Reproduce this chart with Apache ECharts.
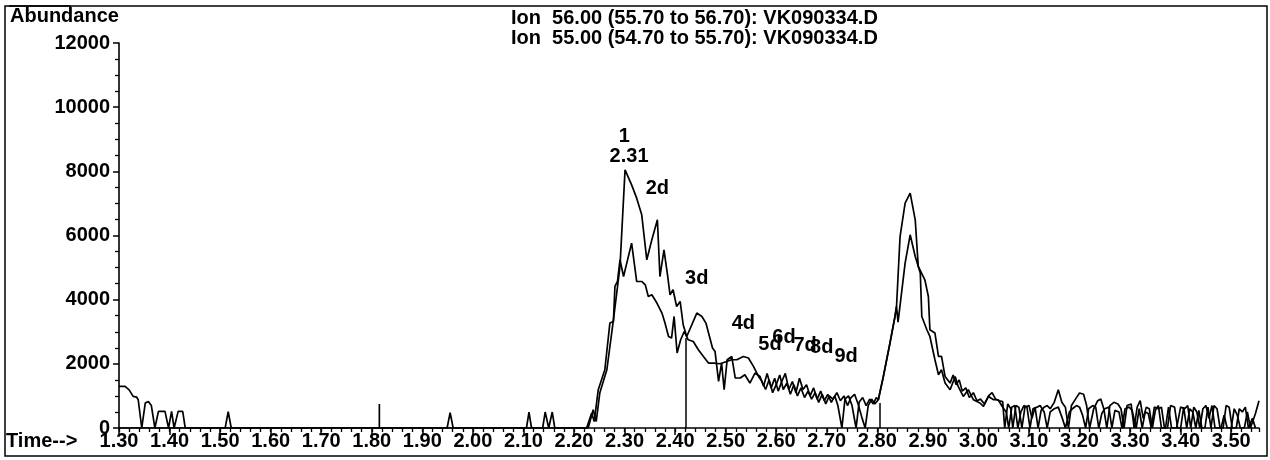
<!DOCTYPE html>
<html>
<head>
<meta charset="utf-8">
<script src="https://cdn.jsdelivr.net/npm/echarts@6/dist/echarts.min.js"></script>
<style>
html,body{margin:0;padding:0;background:#fff;}
#chart{width:1270px;height:460px;}
</style>
</head>
<body>
<div id="chart"></div>
<script>
// ---- data ----
const titleLines = [
  'Ion  56.00 (55.70 to 56.70): VK090334.D',
  'Ion  55.00 (54.70 to 55.70): VK090334.D'
];
const yTicks = [0, 2000, 4000, 6000, 8000, 10000, 12000];
const xTicks = [1.30,1.40,1.50,1.60,1.70,1.80,1.90,2.00,2.10,2.20,2.30,2.40,2.50,2.60,2.70,2.80,2.90,3.00,3.10,3.20,3.30,3.40,3.50];

// Ion 56 trace [time, abundance]
const ion56 = [
  [1.300,1296],[1.312,1296],[1.320,1190],[1.328,984],[1.335,960],[1.338,881],[1.345,0],[1.352,780],[1.358,829],[1.364,700],[1.371,0],
  [1.378,517],[1.391,517],[1.398,0],[1.404,517],[1.409,0],[1.417,517],[1.426,517],[1.431,0],
  [1.510,0],[1.516,510],[1.522,0],
  [1.815,0],[1.815,750],[1.815,0],
  [1.949,0],[1.955,480],[1.961,0],
  [2.106,0],[2.111,498],[2.116,0],[2.138,0],[2.143,498],[2.150,0],[2.157,498],[2.162,0],
  [2.228,0],[2.238,570],[2.244,205],[2.251,1090],[2.265,1816],[2.278,3373],[2.291,5034],[2.301,8046],[2.314,7579],[2.324,7164],
  [2.334,6644],[2.344,5243],[2.354,5866],[2.365,6489],[2.370,4722],[2.378,5554],[2.385,4775],[2.390,4152],[2.396,4308],[2.403,3788],
  [2.410,3944],[2.416,3218],[2.423,2853],[2.443,3582],[2.453,3477],[2.461,3270],[2.468,2853],[2.474,2492],[2.479,2386],[2.486,1452],
  [2.492,2025],[2.497,1193],[2.503,2128],[2.512,2230],[2.519,1558],[2.529,1558],[2.538,1660],[2.548,1402],[2.558,1713],[2.568,1607],
  [2.575,1300],[2.582,1700],[2.590,1250],[2.597,1550],[2.604,1150],[2.611,1450],[2.618,1700],[2.625,1200],[2.632,1450],[2.639,1100],
  [2.646,1550],[2.653,1200],[2.660,1350],[2.667,1000],[2.674,1250],[2.681,900],[2.688,1150],[2.695,850],[2.702,1050],[2.709,800],
  [2.716,1000],[2.722,700],[2.730,0],[2.736,900],[2.743,1000],[2.750,700],[2.758,0],[2.764,800],[2.771,950],[2.778,700],[2.785,900],
  [2.792,750],[2.798,950],[2.802,880],[2.812,1607],[2.825,2648],[2.835,3477],[2.838,3788],[2.845,5968],[2.855,7009],[2.865,7320],
  [2.875,6489],[2.881,5034],[2.894,4620],[2.901,4100],[2.904,3062],[2.914,2959],[2.921,2230],[2.927,2230],
  [2.934,1607],[2.944,1400],[2.950,1650],[2.956,1350],[2.962,1500],[2.968,1150],[2.975,1250],[2.982,950],[2.990,1100],[2.997,850],
  [3.004,900],[3.012,750],[3.020,1000],[3.027,1100],[3.034,900],[3.041,850],[3.048,820],[3.052,0],[3.058,750],[3.064,600],[3.068,0],
  [3.074,700],[3.080,650],[3.086,0],[3.092,650],[3.100,700],[3.106,300],[3.112,650],[3.118,0],[3.124,550],[3.130,650],[3.136,700],
  [3.142,600],[3.150,800],[3.158,1190],[3.165,800],[3.172,650],[3.178,0],[3.184,700],[3.192,900],[3.200,1090],[3.208,1050],[3.214,700],
  [3.220,0],[3.228,600],[3.236,850],[3.242,900],[3.248,600],[3.254,0],[3.260,700],[3.268,800],[3.276,750],[3.282,600],[3.288,0],
  [3.294,700],[3.302,750],[3.308,0],[3.314,650],[3.320,850],[3.326,300],[3.332,650],[3.338,600],[3.344,0],[3.350,550],[3.356,700],
  [3.362,0],[3.370,0],[3.376,650],[3.382,0],[3.392,0],[3.400,650],[3.408,600],[3.414,700],[3.420,0],[3.426,650],[3.432,500],[3.438,0],
  [3.444,600],[3.450,700],[3.456,300],[3.462,700],[3.468,0],[3.480,0],[3.486,400],[3.492,0],[3.500,0],[3.506,600],[3.512,400],[3.518,0],
  [3.526,0],[3.532,500],[3.538,0],[3.548,450],[3.555,850]
];

// Ion 55 trace [time, abundance]
const ion55 = [
  [1.300,0],[2.225,0],[2.235,467],[2.240,200],[2.248,1193],[2.261,1816],[2.271,3270],[2.278,3320],[2.281,4411],[2.286,4567],[2.291,5243],
  [2.298,4722],[2.314,5763],[2.324,4567],[2.334,4567],[2.341,4464],[2.347,4100],[2.354,4152],[2.364,3894],[2.374,3582],[2.380,3270],
  [2.387,2853],[2.393,2803],[2.398,3477],[2.404,2336],[2.411,2750],[2.418,3009],[2.426,2750],[2.436,2698],[2.446,2439],[2.456,2230],
  [2.466,2025],[2.476,2025],[2.489,2003],[2.502,2075],[2.512,2128],[2.522,2128],[2.535,2230],[2.545,2181],[2.555,1919],[2.565,1607],
  [2.572,1450],[2.579,1200],[2.586,1500],[2.593,1100],[2.600,1350],[2.607,1650],[2.614,1200],[2.621,1400],[2.628,1050],[2.635,1350],
  [2.642,1000],[2.649,1250],[2.656,950],[2.663,1150],[2.670,900],[2.677,1100],[2.684,800],[2.691,1050],[2.698,750],[2.705,1000],
  [2.712,900],[2.720,1100],[2.727,850],[2.734,1000],[2.741,700],[2.748,950],[2.755,1050],[2.762,750],[2.770,300],[2.776,0],[2.782,700],
  [2.789,900],[2.795,750],[2.802,880],[2.812,1607],[2.825,2648],[2.835,3477],[2.838,3788],[2.841,3300],[2.855,5140],[2.865,6022],
  [2.875,5346],[2.885,4828],[2.888,3477],[2.898,3062],[2.904,2853],[2.914,2128],[2.921,1660],[2.927,1816],
  [2.934,1402],[2.944,1193],[2.954,1607],[2.960,1296],[2.970,984],[2.980,1193],[2.990,881],[3.003,779],[3.010,673],[3.020,984],
  [3.030,881],[3.039,881],[3.049,623],[3.055,500],[3.060,0],[3.066,650],[3.072,700],[3.078,0],[3.084,500],[3.090,700],[3.096,650],
  [3.102,0],[3.108,600],[3.116,650],[3.122,700],[3.130,500],[3.136,0],[3.142,500],[3.150,600],[3.158,650],[3.166,300],[3.172,0],
  [3.180,500],[3.186,600],[3.194,700],[3.200,650],[3.206,400],[3.212,0],[3.218,600],[3.226,700],[3.232,650],[3.238,0],[3.244,450],
  [3.250,600],[3.258,650],[3.264,0],[3.270,550],[3.278,500],[3.284,0],[3.290,600],[3.298,650],[3.304,550],[3.312,0],[3.318,600],
  [3.324,0],[3.330,500],[3.336,450],[3.342,0],[3.348,650],[3.356,600],[3.362,650],[3.368,0],[3.374,0],[3.380,700],[3.388,650],
  [3.394,0],[3.400,0],[3.406,650],[3.412,0],[3.418,600],[3.424,500],[3.430,0],[3.436,550],[3.442,0],[3.448,0],[3.454,650],[3.460,0],
  [3.466,700],[3.472,600],[3.478,0],[3.484,0],[3.490,700],[3.496,650],[3.502,0],[3.510,0],[3.516,600],[3.522,500],[3.528,650],
  [3.534,0],[3.542,300],[3.548,0]
];

// integration drop lines [time, top abundance]
const dropLines = [[2.4216, 2803], [2.8054, 779]];

// peak annotations [text, time, abundance]
const peakLabels = [
  ['1', 2.2996, 9083], ['2.31', 2.3089, 8460], ['2d', 2.3649, 7476], ['3d', 2.4428, 4673], ['4d', 2.5350, 3271],
  ['5d', 2.5878, 2595], ['6d', 2.6155, 2835], ['7d', 2.6571, 2564], ['8d', 2.6901, 2523], ['9d', 2.7382, 2230]
];

// ---- chart ----
const FONT = '"Liberation Sans", Arial, sans-serif';
const chart = echarts.init(document.getElementById('chart'), null, {renderer: 'canvas'});
const isMajorX = v => Math.abs(v * 10 - Math.round(v * 10)) < 1e-6;

chart.setOption({
  animation: false,
  backgroundColor: '#fff',
  title: {
    text: titleLines.join('\n'),
    left: 506, top: 3,
    textStyle: {fontFamily: FONT, fontSize: 20, fontWeight: 'bold', color: '#000', lineHeight: 20}
  },
  grid: {left: 119, right: 11, top: 43, bottom: 32, containLabel: false},
  xAxis: [{
    type: 'value', min: 1.30, max: 3.555, interval: 0.1,
    axisLine: {show: true, onZero: false, lineStyle: {color: '#000', width: 1.6}},
    axisTick: {show: true, length: 7, lineStyle: {color: '#000', width: 1.5}},
    axisLabel: {
      show: true, margin: 3, showMaxLabel: false, color: '#000', fontFamily: FONT, fontSize: 20, fontWeight: 'bold',
      formatter: v => isMajorX(v) ? v.toFixed(2) : ''
    },
    splitLine: {show: false}
  }, {
    type: 'value', min: 1.30, max: 3.555, interval: 0.02, position: 'bottom',
    axisLine: {show: false}, axisLabel: {show: false}, splitLine: {show: false},
    axisTick: {show: true, length: 4, lineStyle: {color: '#000', width: 1.3}}
  }],
  yAxis: {
    type: 'value', min: 0, max: 12000, interval: 2000,
    axisLine: {show: true, lineStyle: {color: '#000', width: 1.6}},
    axisTick: {show: true, length: 6, lineStyle: {color: '#000', width: 1.5}},
    minorTick: {show: true, splitNumber: 4, length: 4, lineStyle: {color: '#000', width: 1.3}},
    axisLabel: {margin: 9, color: '#000', fontFamily: FONT, fontSize: 20, fontWeight: 'bold',
      formatter: v => yTicks.indexOf(v) >= 0 ? String(v) : ''},
    splitLine: {show: false}
  },
  series: [
    {type: 'line', name: 'Ion 56', data: ion56, showSymbol: false, symbol: 'none',
      lineStyle: {color: '#000', width: 1.7}, z: 3},
    {type: 'line', name: 'Ion 55', data: ion55, showSymbol: false, symbol: 'none',
      lineStyle: {color: '#000', width: 1.7}, z: 3},
    {type: 'lines', coordinateSystem: 'cartesian2d', polyline: false,
      data: dropLines.map(d => ({coords: [[d[0], 0], [d[0], d[1]]]})),
      lineStyle: {color: '#000', width: 1.5, opacity: 1}, z: 3},
    {type: 'scatter', symbolSize: 1, itemStyle: {color: 'rgba(0,0,0,0)'},
      data: peakLabels.map(p => ({name: p[0], value: [p[1], p[2]]})),
      label: {show: true, position: 'inside', formatter: p => p.name, color: '#000', opacity: 1,
        textBorderWidth: 0, textBorderColor: 'transparent', textShadowBlur: 0,
        fontFamily: FONT, fontSize: 20, fontWeight: 'bold'},
      emphasis: {disabled: true},
      labelLayout: {hideOverlap: false}, z: 5}
  ],
  graphic: [
    {type: 'rect', shape: {x: 5, y: 6, width: 1262, height: 450}, style: {fill: 'none', stroke: '#000', lineWidth: 1.5}, silent: true},
    {type: 'polyline', shape: {points: [[9, 6], [70, 6], [70, 13]]}, style: {stroke: '#000', lineWidth: 1.5, fill: 'none'}, silent: true},
    {type: 'text', left: 10, top: 6, style: {text: 'Abundance', fill: '#000', font: 'bold 20px ' + FONT}},
    {type: 'text', left: 6, top: 431, style: {text: 'Time-->', fill: '#000', font: 'bold 20px ' + FONT}}
  ]
});
</script>
</body>
</html>
